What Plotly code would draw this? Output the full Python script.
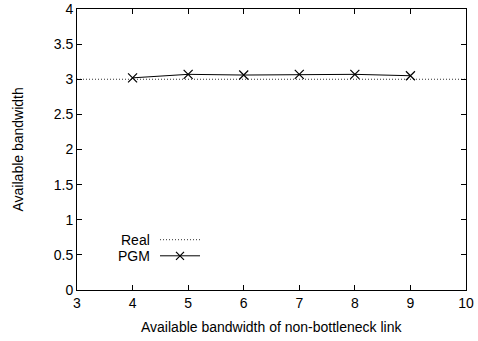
import plotly.graph_objects as go

x_vals = [4, 5, 6, 7, 8, 9]
pgm_vals = [3.02, 3.07, 3.06, 3.07, 3.07, 3.05]
real_x = [3, 10]
real_vals = [3, 3]
x_ticks = [3, 4, 5, 6, 7, 8, 9, 10]
y_ticks = [0, 0.5, 1, 1.5, 2, 2.5, 3, 3.5, 4]
y_tick_text = ["0", "0.5", "1", "1.5", "2", "2.5", "3", "3.5", "4"]

FONT = "Liberation Sans, Arial, Helvetica, sans-serif"
FS = 14
DOT = "1px,2px"

fig = go.Figure()
fig.add_trace(go.Scatter(x=real_x, y=real_vals, mode="lines",
                         line=dict(color="#333333", width=1, dash=DOT),
                         showlegend=False, hoverinfo="skip"))
fig.add_trace(go.Scatter(x=x_vals, y=pgm_vals, mode="lines+markers",
                         line=dict(color="black", width=1),
                         marker=dict(symbol="x-thin", size=9,
                                     line=dict(color="black", width=1.2)),
                         showlegend=False))

# legend drawn gnuplot-style (text, then sample)
leg_rows = [("Real", 0.1790, DOT, False), ("PGM", 0.1217, "solid", True)]
for name, yy, dash, mk in leg_rows:
    fig.add_trace(go.Scatter(x=[0.2134, 0.3162], y=[yy, yy], mode="lines",
                             line=dict(color="black" if not dash == DOT else "#333333",
                                       width=1, dash=dash),
                             xaxis="x2", yaxis="y2", showlegend=False, hoverinfo="skip"))
    if mk:
        fig.add_trace(go.Scatter(x=[0.2648], y=[yy], mode="markers",
                                 marker=dict(symbol="x-thin", size=8,
                                             line=dict(color="black", width=1.2)),
                                 xaxis="x2", yaxis="y2", showlegend=False, hoverinfo="skip"))
    fig.add_annotation(x=0.190, y=yy, xref="paper", yref="paper", text=name,
                       showarrow=False, xanchor="right", yanchor="middle",
                       height=14, borderpad=0,
                       font=dict(family=FONT, size=FS, color="black"))

# axis titles
fig.add_annotation(x=0.5, y=0, xref="paper", yref="paper", yshift=-37,
                   text="Available bandwidth of non-bottleneck link", showarrow=False,
                   xanchor="center", yanchor="middle",
                   font=dict(family=FONT, size=FS, color="black"))
fig.add_annotation(x=0, y=0.5, xref="paper", yref="paper", xshift=-60,
                   text="Available bandwidth", showarrow=False, textangle=-90,
                   xanchor="center", yanchor="middle",
                   font=dict(family=FONT, size=FS, color="black"))

axis_common = dict(showgrid=False, zeroline=False, showline=True, linecolor="black",
                   linewidth=1, mirror="ticks", ticks="inside", ticklen=5,
                   tickcolor="black", tickwidth=1, automargin=False,
                   tickfont=dict(family=FONT, size=FS, color="black"))

fig.update_layout(
    width=478, height=341,
    margin=dict(l=77, r=12, t=9, b=51),
    paper_bgcolor="white", plot_bgcolor="white",
    font=dict(family=FONT, size=FS, color="black"),
    xaxis=dict(range=[3, 10], tickvals=x_ticks, ticktext=[str(t) for t in x_ticks],
               **axis_common),
    yaxis=dict(range=[0, 4], tickvals=y_ticks, ticktext=y_tick_text,
               **axis_common),
    xaxis2=dict(range=[0, 1], overlaying="x", visible=False, fixedrange=True),
    yaxis2=dict(range=[0, 1], overlaying="y", visible=False, fixedrange=True),
)

fig.write_html("out.html", config={"displayModeBar": False},
               post_script="document.body.style.margin='0px';")
